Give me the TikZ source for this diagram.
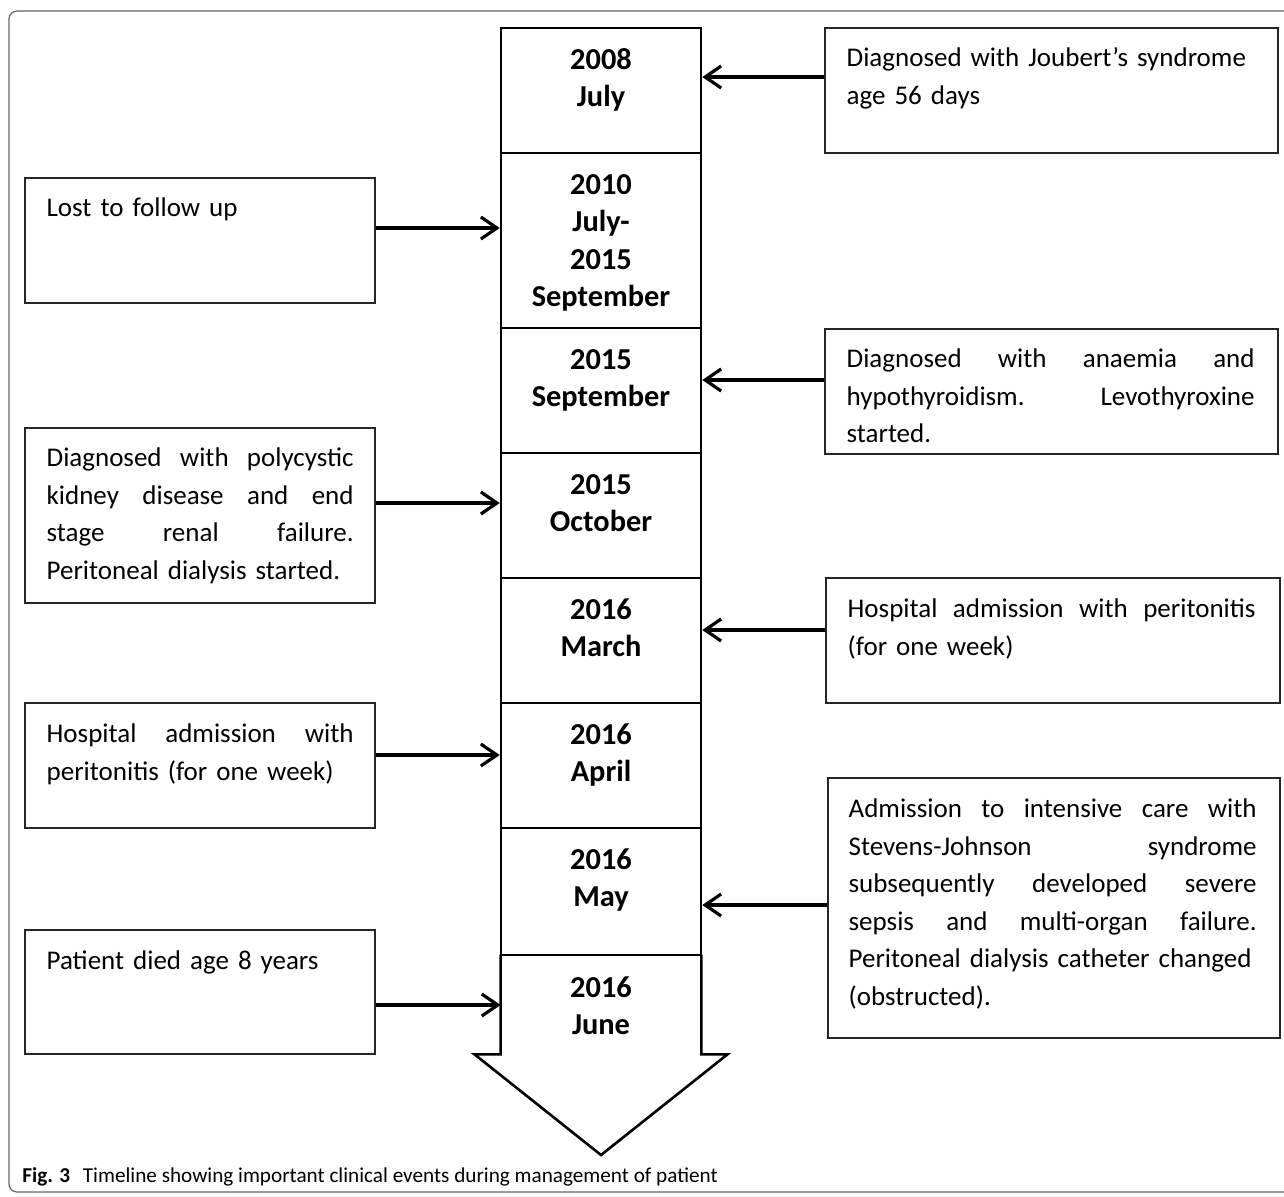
\documentclass[tikz,border=0pt]{standalone}
\usepackage{fontspec}
\setmainfont{Carlito}
\usetikzlibrary{arrows.meta,calc}
\newcommand{\jline}[1]{\makebox[\hsize][s]{\spaceskip=0.25em plus 1fil\relax\xspaceskip=0.25em plus 1fil\relax #1}}
\begin{document}
\begin{tikzpicture}[x=0.5pt,y=-0.5pt,
  evbox/.style={draw=black!85, line width=0.75pt, rectangle, inner sep=0pt},
  cell/.style={draw, line width=1.3pt, rectangle, inner sep=0pt, minimum width=100pt},
  evtext/.style={anchor=north west, inner sep=0pt, align=left, font=\fontsize{13.5}{18.75}\selectfont},
  wide/.style={text width=204pt},
  narrow/.style={text width=153.5pt},
  datetext/.style={anchor=north, inner sep=0pt, align=center, font=\fontsize{15.2}{18.75}\selectfont\bfseries},
  arr/.style={line width=1.6pt, -{Straight Barb[length=8pt,width=11pt]}}]
\useasboundingbox (0,0) rectangle (1284,1196);
\clip (0,0) rectangle (1284,1196);
% outer frame
\draw[black!60, line width=0.6pt, rounded corners=4pt] (9,11) rectangle (1300,1192);

% timeline cells
\node[cell, minimum height=62.5pt] (c1) at (601,90.5) {};
\node[cell, minimum height=87.5pt] (c2) at (601,240.5) {};
\node[cell, minimum height=62.5pt] (c3) at (601,390.5) {};
\node[cell, minimum height=62.5pt] (c4) at (601,515.5) {};
\node[cell, minimum height=62.5pt] (c5) at (601,640.5) {};
\node[cell, minimum height=62.5pt] (c6) at (601,765.5) {};
\node[cell, minimum height=63.5pt] (c7) at (601,891.5) {};
\node[inner sep=0pt, minimum width=100pt, minimum height=49.5pt] (c8) at (601,1004.5) {};
\draw[line width=1.3pt, line join=miter] (c8.north west) -- (c8.south west) -- ++(-26,0) -- (601,1155)
  -- ($(c8.south east)+(26,0)$) -- (c8.south east) -- (c8.north east);

% dates
\node[datetext] (d1) at ([yshift=-8pt]c1.north) {\strut 2008\\July};
\node[datetext] (d2) at ([yshift=-8pt]c2.north) {\strut 2010\\July-\\2015\\September};
\node[datetext] (d3) at ([yshift=-8pt]c3.north) {\strut 2015\\September};
\node[datetext] (d4) at ([yshift=-8pt]c4.north) {\strut 2015\\October};
\node[datetext] (d5) at ([yshift=-8pt]c5.north) {\strut 2016\\March};
\node[datetext] (d6) at ([yshift=-8pt]c6.north) {\strut 2016\\April};
\node[datetext] (d7) at ([yshift=-8pt]c7.north) {\strut 2016\\May};
\node[datetext] (d8) at ([yshift=-8pt]c8.north) {\strut 2016\\June};

% event boxes
\node[evbox, minimum width=226.5pt, minimum height=62.5pt] (jb) at (1051.5,90.5) {};
\node[evbox, minimum width=175pt, minimum height=62.5pt] (lf) at (200,240.5) {};
\node[evbox, minimum width=226.5pt, minimum height=62.5pt] (an) at (1051.5,391.5) {};
\node[evbox, minimum width=175pt, minimum height=87.5pt] (pk) at (200,515.5) {};
\node[evbox, minimum width=227pt, minimum height=62.5pt] (hr) at (1053,640.5) {};
\node[evbox, minimum width=175pt, minimum height=62.5pt] (hl) at (200,765.5) {};
\node[evbox, minimum width=226pt, minimum height=130pt] (icu) at (1054,908) {};
\node[evbox, minimum width=175pt, minimum height=62pt] (pd) at (200,992) {};

% event texts
\node[evtext, wide] (jbt) at ([xshift=11pt,yshift=-6.5pt]jb.north west)
  {\strut Diagnosed with Joubert’s syndrome\\age 56 days};
\node[evtext, narrow] (lft) at ([xshift=11pt,yshift=-6.5pt]lf.north west)
  {\strut Lost to follow up};
\node[evtext, wide] (ant) at ([xshift=11pt,yshift=-6.5pt]an.north west)
  {\strut\jline{Diagnosed with anaemia and}\\\jline{hypothyroidism. Levothyroxine}\\started.};
\node[evtext, narrow] (pkt) at ([xshift=11pt,yshift=-6.5pt]pk.north west)
  {\strut\jline{Diagnosed with polycystic}\\\jline{kidney disease and end}\\\jline{stage renal failure.}\\Peritoneal dialysis started.};
\node[evtext, wide] (hrt) at ([xshift=11pt,yshift=-7pt]hr.north west)
  {\strut\jline{Hospital admission with peritonitis}\\(for one week)};
\node[evtext, narrow] (hlt) at ([xshift=11pt,yshift=-7pt]hl.north west)
  {\strut\jline{Hospital admission with}\\peritonitis (for one week)};
\node[evtext, wide] (icut) at ([xshift=10.5pt,yshift=-7pt]icu.north west)
  {\strut\jline{Admission to intensive care with}\\\jline{Stevens-Johnson syndrome}\\\jline{subsequently developed severe}\\\jline{sepsis and multi-organ failure.}\\Peritoneal dialysis catheter changed\\(obstructed).};
\node[evtext, narrow] (pdt) at ([xshift=11pt,yshift=-6.75pt]pd.north west)
  {\strut Patient died age 8 years};

% connectors
\draw[arr] (jb.west |- 0,77) -- (c1.east |- 0,77);
\draw[arr] (lf.east |- 0,228) -- (c2.west |- 0,228);
\draw[arr] (an.west |- 0,380) -- (c3.east |- 0,380);
\draw[arr] (pk.east |- 0,503) -- (c4.west |- 0,503);
\draw[arr] (hr.west |- 0,630) -- (c5.east |- 0,630);
\draw[arr] (hl.east |- 0,755) -- (c6.west |- 0,755);
\draw[arr] (icu.west |- 0,905) -- (c7.east |- 0,905);
\draw[arr] (pd.east |- 0,1005) -- (c8.west |- 0,1005);

% caption
\node[anchor=base west, inner sep=0pt, font=\fontsize{10.6}{12}\selectfont] (cap) at (22,1182)
  {\textbf{Fig. 3}\hspace{0.6em}Timeline showing important clinical events during management of patient};
\end{tikzpicture}
\end{document}
